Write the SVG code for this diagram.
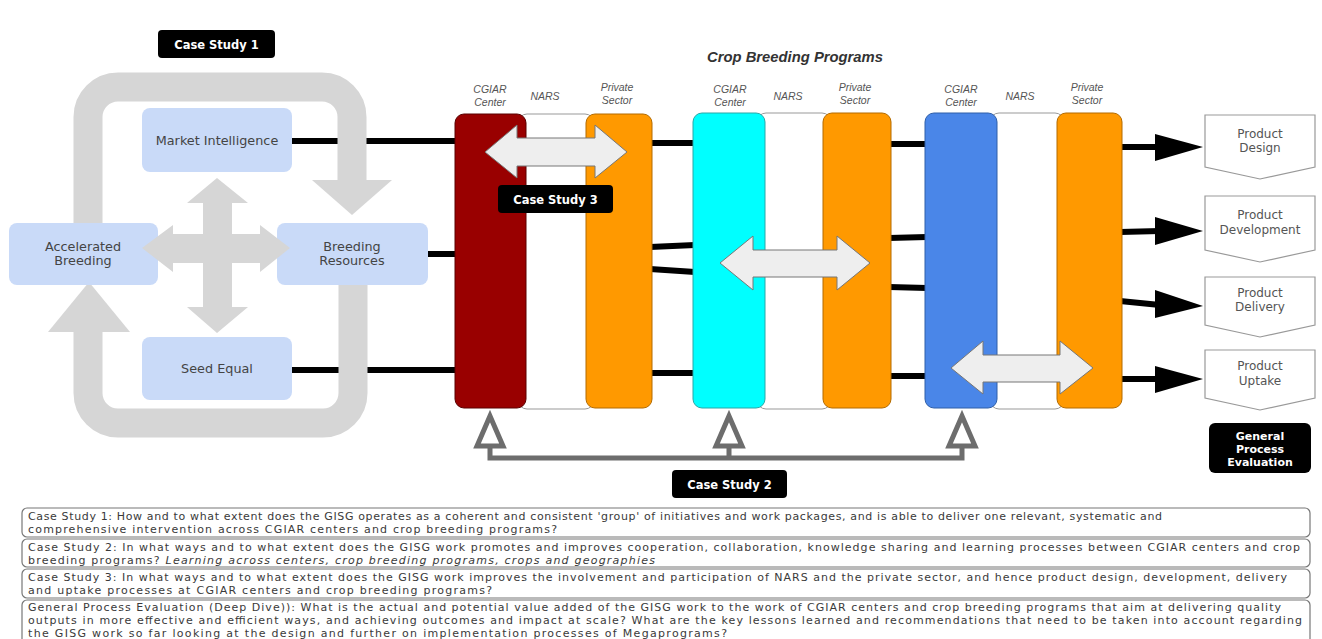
<svg xmlns="http://www.w3.org/2000/svg" width="1322" height="639" viewBox="0 0 1322 639">
<style>
.node{fill:#c9daf8}
.nt{font-family:"DejaVu Sans",sans-serif;font-size:12.8px;fill:#444;text-anchor:middle}
.lbl{fill:#000}
.lt{font-family:"DejaVu Sans",sans-serif;font-size:11.5px;font-weight:bold;fill:#fff;text-anchor:middle}
.gpe{font-family:"DejaVu Sans",sans-serif;font-size:11px;font-weight:bold;fill:#fff;text-anchor:middle}
.col{font-family:"Liberation Sans",Arial,sans-serif;font-size:10.5px;font-style:italic;fill:#555;text-anchor:middle}
.blk{stroke:#000;stroke-width:6;fill:none}
.loop{stroke:#d6d6d6;stroke-width:29;fill:none}
.gray{fill:#d6d6d6}
.dbl{fill:#eeeeee;stroke:#777;stroke-width:1}
.wcol{fill:#fff;stroke:#999;stroke-width:1}
.prod{fill:#fff;stroke:#999;stroke-width:1.2}
.pt{font-family:"DejaVu Sans",sans-serif;font-size:12px;fill:#555;text-anchor:middle}
.cs2{stroke:#6d6d6d;stroke-width:5;fill:none}
.tri{stroke:#6d6d6d;stroke-width:5;fill:#fff;stroke-linejoin:miter}
.qbox{fill:#fff;stroke:#777;stroke-width:1.2}
.qt{font-family:"DejaVu Sans",sans-serif;font-size:11px;fill:#3a3a3a}
</style>
<rect width="1322" height="639" fill="#ffffff"/>

<g id="connectors">
  <line class="blk" x1="292" y1="141" x2="456" y2="141"/>
  <line class="blk" x1="428" y1="254" x2="456" y2="254"/>
  <line class="blk" x1="292" y1="370" x2="456" y2="370"/>
  <line class="blk" x1="650" y1="143" x2="695" y2="143"/>
  <line class="blk" x1="650" y1="247" x2="695" y2="245"/>
  <line class="blk" x1="650" y1="269" x2="695" y2="272"/>
  <line class="blk" x1="650" y1="373" x2="695" y2="373"/>
  <line class="blk" x1="889" y1="144" x2="927" y2="144"/>
  <line class="blk" x1="889" y1="238" x2="927" y2="237"/>
  <line class="blk" x1="889" y1="287" x2="927" y2="288"/>
  <line class="blk" x1="889" y1="376" x2="927" y2="376"/>
  <line class="blk" x1="1120" y1="147" x2="1160" y2="147"/>
  <polygon points="1155,134 1203,147 1155,161" fill="#000"/>
  <line class="blk" x1="1120" y1="232" x2="1160" y2="231"/>
  <polygon points="1155,217 1203,231 1155,245" fill="#000"/>
  <line class="blk" x1="1120" y1="301" x2="1160" y2="305"/>
  <polygon points="1155,290 1203,306 1155,318" fill="#000"/>
  <line class="blk" x1="1120" y1="379" x2="1160" y2="379"/>
  <polygon points="1155,366 1203,379 1155,393" fill="#000"/>

  <!-- Case Study 1 loop -->
  <path class="loop" d="M88,225 V117 A30,30 0 0 1 118,87 H322 A30,30 0 0 1 352,117 V182"/>
  <polygon class="gray" points="312,180 392,180 352,215"/>
  <path class="loop" d="M353,283 V393 A30,30 0 0 1 323,423 H118 A30,30 0 0 1 88,393 V330"/>
  <polygon class="gray" points="48,332 130,332 89,282"/>

  <!-- Case Study 2 feedback -->
  <path class="cs2" d="M490,446 V458 H962 V446 M729,458 V446"/>
  <polygon class="tri" points="490,416 477,446 503,446"/>
  <polygon class="tri" points="729,416 716,446 742,446"/>
  <polygon class="tri" points="962,416 949,446 975,446"/>
</g>

<g id="case-study-1">
  <rect class="lbl" x="158" y="30" width="117" height="28" rx="4"/>
  <text class="lt" x="216.5" y="48.5">Case Study 1</text>
</g>

<g id="market-intelligence">
  <rect class="node" x="142" y="108" width="150" height="64" rx="8"/>
  <text class="nt" x="217" y="145">Market Intelligence</text>
</g>
<g id="accelerated-breeding">
  <rect class="node" x="9" y="223" width="149" height="62" rx="8"/>
  <text class="nt" x="83" y="251">Accelerated</text>
  <text class="nt" x="83" y="265">Breeding</text>
</g>
<g id="breeding-resources">
  <rect class="node" x="277" y="223" width="151" height="62" rx="8"/>
  <text class="nt" x="352" y="251">Breeding</text>
  <text class="nt" x="352" y="265">Resources</text>
</g>
<g id="seed-equal">
  <rect class="node" x="142" y="337" width="150" height="63" rx="8"/>
  <text class="nt" x="217" y="373">Seed Equal</text>
</g>

<g id="cross-arrows">
  <polygon class="gray" points="142,248 173,225 173,234 260,234 260,225 290,248 260,272 260,263 173,263 173,272"/>
  <polygon class="gray" points="217,178 248,203 232,203 232,307 248,307 217,333 187,307 203,307 203,203 187,203"/>
</g>

<g id="title">
  <text x="795" y="62" font-family="Liberation Sans,Arial,sans-serif" font-size="14.8" font-weight="bold" font-style="italic" fill="#333" text-anchor="middle">Crop Breeding Programs</text>
</g>

<g id="program-1">
  <rect class="wcol" x="518" y="114" width="76" height="295" rx="9"/>
  <rect x="455" y="114" width="71" height="294" rx="9" fill="#990000" stroke="#5a0000" stroke-width="1"/>
  <rect x="586" y="114" width="66" height="294" rx="9" fill="#ff9900" stroke="#b36b00" stroke-width="1"/>
  <text class="col" x="490" y="93">CGIAR</text>
  <text class="col" x="490" y="106">Center</text>
  <text class="col" x="545" y="100">NARS</text>
  <text class="col" x="617" y="91">Private</text>
  <text class="col" x="617" y="104">Sector</text>
</g>
<g id="program-2">
  <rect class="wcol" x="757" y="113" width="74" height="296" rx="9"/>
  <rect x="693" y="113" width="72" height="295" rx="9" fill="#00ffff" stroke="#2aa7a7" stroke-width="1"/>
  <rect x="823" y="113" width="68" height="295" rx="9" fill="#ff9900" stroke="#b36b00" stroke-width="1"/>
  <text class="col" x="730" y="93">CGIAR</text>
  <text class="col" x="730" y="106">Center</text>
  <text class="col" x="788" y="100">NARS</text>
  <text class="col" x="855" y="91">Private</text>
  <text class="col" x="855" y="104">Sector</text>
</g>
<g id="program-3">
  <rect class="wcol" x="990" y="113" width="74" height="296" rx="9"/>
  <rect x="925" y="113" width="72" height="295" rx="9" fill="#4a86e8" stroke="#2f5fa8" stroke-width="1"/>
  <rect x="1057" y="113" width="65" height="295" rx="9" fill="#ff9900" stroke="#b36b00" stroke-width="1"/>
  <text class="col" x="961" y="93">CGIAR</text>
  <text class="col" x="961" y="106">Center</text>
  <text class="col" x="1020" y="100">NARS</text>
  <text class="col" x="1087" y="91">Private</text>
  <text class="col" x="1087" y="104">Sector</text>
</g>

<g id="case-study-3-arrows">
  <polygon class="dbl" points="485,152 517,125 517,138 595,138 595,125 627,152 595,178 595,166 517,166 517,178"/>
  <polygon class="dbl" points="720,263 753,236 753,250 837,250 837,236 870,263 837,290 837,277 753,277 753,290"/>
  <polygon class="dbl" points="951,368 983,341 983,355 1060,355 1060,341 1093,368 1060,394 1060,382 983,382 983,394"/>
</g>

<g id="case-study-3">
  <rect class="lbl" x="498" y="185" width="115" height="28" rx="4"/>
  <text class="lt" x="555.5" y="203.5">Case Study 3</text>
</g>

<g id="case-study-2">
  <rect class="lbl" x="672" y="470" width="115" height="28" rx="4"/>
  <text class="lt" x="729.5" y="488.5">Case Study 2</text>
</g>

<g id="product-design">
  <polygon class="prod" points="1205,115 1315,115 1315,167 1260,179 1205,167"/>
  <text class="pt" x="1260" y="138">Product</text>
  <text class="pt" x="1260" y="152">Design</text>
</g>
<g id="product-development">
  <polygon class="prod" points="1205,196 1315,196 1315,250 1260,262 1205,250"/>
  <text class="pt" x="1260" y="219">Product</text>
  <text class="pt" x="1260" y="234">Development</text>
</g>
<g id="product-delivery">
  <polygon class="prod" points="1205,277 1315,277 1315,325 1260,337 1205,325"/>
  <text class="pt" x="1260" y="297">Product</text>
  <text class="pt" x="1260" y="311">Delivery</text>
</g>
<g id="product-uptake">
  <polygon class="prod" points="1205,350 1315,350 1315,398 1260,410 1205,398"/>
  <text class="pt" x="1260" y="370">Product</text>
  <text class="pt" x="1260" y="385">Uptake</text>
</g>

<g id="general-process-evaluation">
  <rect class="lbl" x="1209" y="423" width="102" height="50" rx="6"/>
  <text class="gpe" x="1260" y="440">General</text>
  <text class="gpe" x="1260" y="453">Process</text>
  <text class="gpe" x="1260" y="466">Evaluation</text>
</g>

<g id="questions">
  <rect class="qbox" x="22" y="508" width="1288" height="29" rx="5"/>
  <text class="qt" x="28" y="520" textLength="1134">Case Study 1: How and to what extent does the GISG operates as a coherent and consistent 'group' of initiatives and work packages, and is able to deliver one relevant, systematic and</text>
  <text class="qt" x="28" y="533" textLength="529">comprehensive intervention across CGIAR centers and crop breeding programs?</text>

  <rect class="qbox" x="22" y="539" width="1288" height="28" rx="5"/>
  <text class="qt" x="28" y="551" textLength="1272">Case Study 2: In what ways and to what extent does the GISG work promotes and improves cooperation, collaboration, knowledge sharing and learning processes between CGIAR centers and crop</text>
  <text class="qt" x="28" y="564" textLength="627">breeding programs? <tspan font-style="italic">Learning across centers, crop breeding programs, crops and geographies</tspan></text>

  <rect class="qbox" x="22" y="569" width="1288" height="29" rx="5"/>
  <text class="qt" x="28" y="581" textLength="1259">Case Study 3: In what ways and to what extent does the GISG work improves the involvement and participation of NARS and the private sector, and hence product design, development, delivery</text>
  <text class="qt" x="28" y="594" textLength="464">and uptake processes at CGIAR centers and crop breeding programs?</text>

  <rect class="qbox" x="22" y="600" width="1288" height="46" rx="5"/>
  <text class="qt" x="28" y="611" textLength="1253">General Process Evaluation (Deep Dive)): What is the actual and potential value added of the GISG work to the work of CGIAR centers and crop breeding programs that aim at delivering quality</text>
  <text class="qt" x="28" y="624" textLength="1274">outputs in more effective and efficient ways, and achieving outcomes and impact at scale? What are the key lessons learned and recommendations that need to be taken into account regarding</text>
  <text class="qt" x="28" y="637" textLength="699">the GISG work so far looking at the design and further on implementation processes of Megaprograms?</text>
</g>
</svg>
